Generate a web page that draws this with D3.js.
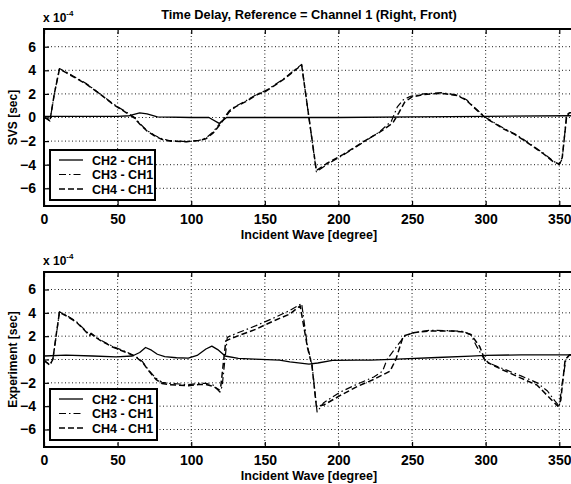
<!DOCTYPE html>
<html><head><meta charset="utf-8">
<script src="https://cdn.jsdelivr.net/npm/d3@7/dist/d3.min.js"></script>
<style>
body{margin:0;background:#fff;}
svg{display:block;}
text{font-family:"Liberation Sans",Arial,sans-serif;font-weight:bold;fill:#000;}
</style></head>
<body>
<svg id="c" width="571" height="484"></svg>
<script>
// ---- data (degrees, value x 1e-4 sec) ----
const xTicks = [0,50,100,150,200,250,300,350];
const yTicks = [-6,-4,-2,0,2,4,6];
const seriesNames = ["CH2 - CH1","CH3 - CH1","CH4 - CH1"];
const titleText = "Time Delay, Reference = Channel 1 (Right, Front)";
const xLabel = "Incident Wave [degree]";
const yLabels = ["SVS [sec]","Experiment [sec]"];

const svsCH2 = [[0,0.1],[20,0.1],[50,0.1],[58,0.15],[65,0.4],[70,0.3],[77,0.05],[100,0],[112,0],[119,-0.5],[124,0],[150,0],[200,0],[250,0.05],[300,0.1],[360,0.15]];
const svsCH3 = [[0,0],[2,-0.1],[4,-0.3],[7,2],[10.5,4.15],[15,3.85],[20,3.5],[29,2.85],[38,2.0],[47,1.15],[56,0.45],[61,0.05],[65,-0.5],[70,-1.1],[75,-1.5],[80,-1.8],[85,-1.95],[97,-2.05],[105,-1.95],[110,-1.75],[115,-1.2],[119.5,-0.5],[123,0.1],[126,0.6],[130,0.95],[137,1.4],[145,2.0],[151,2.3],[157,2.8],[163,3.3],[170,4.0],[175,4.5],[185,-4.6],[192,-4.0],[203,-3.2],[217,-2.1],[228,-1.2],[236,-0.3],[240,0.9],[244,1.5],[249,1.8],[258,2.0],[270,2.1],[281,1.9],[287,1.5],[292,0.9],[300,0.0],[312,-0.9],[320,-1.4],[328,-2.05],[339,-3.0],[346,-3.7],[350,-4.0],[352,-3.5],[355,0.2],[357,0.45],[360,0.45]];
const svsCH4 = [[0,0],[2,-0.1],[4,-0.3],[7,2],[10.5,4.1],[15,3.8],[20,3.45],[29,2.8],[38,2.0],[47,1.1],[56,0.4],[61,0.0],[65,-0.55],[70,-1.15],[75,-1.55],[80,-1.85],[85,-2.0],[97,-2.05],[105,-1.95],[110,-1.8],[115,-1.3],[119.5,-0.6],[123,0.0],[126,0.5],[130,0.9],[137,1.35],[145,1.95],[151,2.25],[157,2.75],[163,3.25],[170,3.95],[175,4.45],[185,-4.5],[192,-3.9],[203,-3.15],[217,-2.05],[228,-1.25],[237,-0.45],[241,0.4],[245,1.3],[250,1.75],[258,1.95],[270,2.05],[281,1.85],[287,1.45],[292,0.85],[300,-0.05],[312,-0.95],[320,-1.45],[328,-2.1],[339,-3.05],[346,-3.75],[350,-3.95],[352,-3.4],[355,0.1],[357,0.4],[360,0.4]];

const expCH2 = [[0,0.3],[15,0.37],[33,0.3],[49,0.23],[60,0.3],[65,0.6],[69,1.03],[73,0.8],[77,0.45],[82,0.25],[90,0.15],[98,0.12],[104,0.35],[110,0.9],[114,1.15],[118,0.85],[123,0.3],[132,0.1],[143,0.03],[160,-0.06],[167,-0.2],[180,-0.4],[186,-0.3],[196,-0.08],[213,-0.06],[222,-0.06],[240,0.03],[267,0.17],[290,0.29],[300,0.35],[324,0.4],[360,0.4]];
const expCH3 = [[0,-0.05],[4,-0.5],[6,0],[8.5,2.2],[10.5,4.1],[15,3.8],[22,3.25],[28,2.5],[31,2.1],[32,2.25],[38,1.7],[47,1.1],[56,0.65],[62,0.3],[67,-0.2],[71,-0.9],[76,-1.6],[80,-1.95],[85,-2.05],[92,-2.1],[98,-2.15],[105,-2.05],[110,-2.05],[115,-2.2],[119.5,-2.8],[121,-2.3],[124.5,1.9],[128,2.1],[144,2.9],[155,3.5],[167,4.2],[175,4.8],[179,1.1],[182,-0.4],[185.5,-4.5],[190,-3.7],[201,-2.8],[213,-2.1],[224,-1.5],[230,-1.0],[233,0],[240,1.2],[245,2.0],[251,2.3],[262,2.5],[276,2.47],[285,2.4],[290,2.1],[294,1.1],[298,0.23],[300,-0.2],[308,-0.6],[324,-1.4],[335,-2.0],[342,-2.7],[347,-3.55],[350,-4.0],[352,-2.0],[354.5,0],[357,0.4],[360,0.4]];
const expCH4 = [[0,-0.1],[4,-0.45],[6,0],[8.5,2.3],[10.5,4.05],[15,3.75],[22,3.2],[28,2.45],[31,2.05],[32,2.2],[38,1.65],[47,1.05],[56,0.6],[62,0.25],[67,-0.25],[71,-0.95],[76,-1.7],[80,-2.05],[85,-2.15],[92,-2.2],[98,-2.25],[105,-2.15],[110,-2.15],[115,-2.3],[119,-2.6],[120,-2.4],[123.5,1.6],[128,1.85],[144,2.6],[155,3.25],[167,3.9],[174,4.6],[179,1.0],[182,-0.5],[185,-4.0],[190,-3.9],[201,-3.1],[213,-2.3],[224,-1.7],[235,-1.0],[239,0],[244,2.0],[251,2.3],[262,2.45],[276,2.45],[285,2.35],[290,2.15],[296,1.1],[299,0.1],[302,-0.3],[310,-0.8],[324,-1.6],[335,-2.2],[345,-3.5],[349,-4.0],[351,-3.5],[354,0],[357,0.4],[360,0.4]];

// ---- drawing ----
const svg = d3.select("#c");
const x = d3.scaleLinear().domain([0,360]).range([44,574]);
const dashes = [null, "7,3,1.5,3", "6,3"];
const widths = [1.3, 1.2, 1.5];

function panel(top, bottom, data, ylab, legendBox, withTitle, xlabY){
  const y = d3.scaleLinear().domain([-7.5,7.5]).range([bottom, top]);
  const g = svg.append("g");
  // grid
  g.append("g").selectAll("line").data(xTicks.slice(1)).join("line")
    .attr("x1", d=>x(d)).attr("x2", d=>x(d)).attr("y1", top).attr("y2", bottom)
    .attr("stroke","#000").attr("stroke-width",0.9).attr("stroke-dasharray","1,2.5");
  g.append("g").selectAll("line").data(yTicks).join("line")
    .attr("x1", x(0)).attr("x2", x(360)).attr("y1", d=>y(d)).attr("y2", d=>y(d))
    .attr("stroke","#000").attr("stroke-width",0.9).attr("stroke-dasharray","1,2.5");
  // axes
  const ax = g.append("g").attr("transform",`translate(0,${bottom})`)
    .call(d3.axisBottom(x).tickValues(xTicks).tickSize(-5).tickPadding(8).tickFormat(d3.format("d")));
  const axT = g.append("g").attr("transform",`translate(0,${top})`)
    .call(d3.axisTop(x).tickValues(xTicks).tickSize(-5).tickFormat(""));
  const ay = g.append("g").attr("transform",`translate(${x(0)},0)`)
    .call(d3.axisLeft(y).tickValues(yTicks).tickSize(-5).tickPadding(8).tickFormat(d3.format("d")));
  [ax,axT,ay].forEach(a=>{
    a.select(".domain").remove();
    a.selectAll("line").attr("stroke","#000").attr("stroke-width",1.2);
    a.selectAll("text").attr("font-size",14).attr("font-family","Liberation Sans, Arial, sans-serif").attr("font-weight","bold").attr("fill","#000");
  });
  // frame
  g.append("rect").attr("x",x(0)).attr("y",top).attr("width",x(360)-x(0)).attr("height",bottom-top)
    .attr("fill","none").attr("stroke","#000").attr("stroke-width",2);
  // lines
  const line = d3.line().x(d=>x(d[0])).y(d=>y(d[1]));
  data.forEach((s,i)=>{
    g.append("path").datum(s).attr("d",line).attr("fill","none").attr("stroke","#000")
      .attr("stroke-width",widths[i]).attr("stroke-dasharray",dashes[i]).attr("stroke-linejoin","round");
  });
  // legend
  const [lx,ly,lw,lh] = legendBox;
  g.append("rect").attr("x",lx).attr("y",ly).attr("width",lw).attr("height",lh)
    .attr("fill","#fff").attr("stroke","#000").attr("stroke-width",2);
  seriesNames.forEach((n,i)=>{
    const yy = ly + 10 + i*14.5;
    g.append("line").attr("x1",lx+9).attr("x2",lx+33).attr("y1",yy).attr("y2",yy)
      .attr("stroke","#000").attr("stroke-width",widths[i]).attr("stroke-dasharray",dashes[i]);
    g.append("text").attr("x",lx+42).attr("y",yy+4.5).attr("font-size",12.5).text(n);
  });
  // x10^-4
  const ex = g.append("text").attr("x",43).attr("y",top-7).attr("font-size",12);
  ex.append("tspan").text("x 10");
  ex.append("tspan").attr("dy",-6).attr("font-size",8).text("-4");
  // labels
  g.append("text").attr("x",(x(0)+x(360))/2).attr("y",xlabY).attr("text-anchor","middle").attr("font-size",12.5).text(xLabel);
  g.append("text").attr("transform",`translate(17,${y(0)}) rotate(-90)`).attr("text-anchor","middle").attr("font-size",12).text(ylab);
  if(withTitle){
    g.append("text").attr("x",(x(0)+x(360))/2).attr("y",top-10).attr("text-anchor","middle").attr("font-size",12.8).text(titleText);
  }
}

panel(29, 206, [svsCH2, svsCH3, svsCH4], yLabels[0], [50,150,105,50], true, 239);
panel(272, 447, [expCH2, expCH3, expCH4], yLabels[1], [50,389,107,51], false, 480);
</script>
</body></html>
